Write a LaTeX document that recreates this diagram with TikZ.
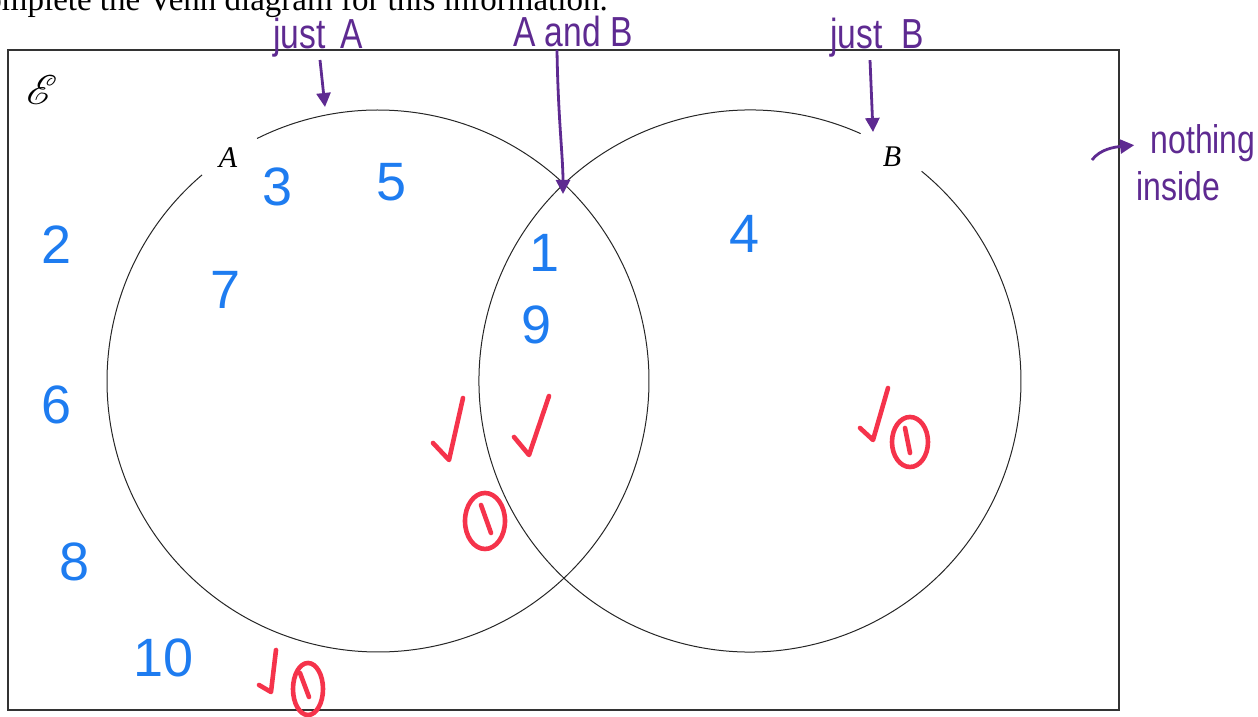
\documentclass[tikz,border=0pt]{standalone}
\usepackage{fontspec}
\setmainfont{Liberation Serif}
\newfontfamily\handfont{Liberation Sans}
\newfontfamily\handnarrow[FakeStretch=0.8]{Liberation Sans}
\usepackage{mathrsfs}
\usetikzlibrary{arrows.meta,positioning,calc}
\definecolor{penblue}{HTML}{1E7CF0}
\definecolor{penpurple}{HTML}{5E2A91}
\definecolor{penred}{HTML}{F5334B}

\begin{document}
\begin{tikzpicture}[
        x=0.5pt, y=0.5pt,
        setline/.style={draw, black!85, line width=0.5pt},
        frame/.style={draw, black!80, line width=0.8pt},
        setlabel/.style={font=\fontsize{15}{15}\selectfont\itshape, inner sep=0pt},
        num/.style={text=penblue, font=\handfont\fontsize{27}{27}\selectfont, inner sep=0pt},
        note/.style={text=penpurple, font=\handnarrow\fontsize{21}{21}\selectfont, inner sep=0pt, anchor=base},
        pointer/.style={draw, -{Triangle[length=7pt, width=7pt]}, penpurple, line width=1.4pt},
        tick/.style={draw, penred, line width=2.3pt, line cap=round, line join=round}
    ]
        \useasboundingbox (0,0) rectangle (1258,717);

        % Question text (cut off at the top)
        \node (question) [anchor=base west, inner sep=0pt, font=\fontsize{16.5}{16.5}\selectfont] at (-37,706) {Complete the Venn diagram for this information.};

        % Universal set and the two sets
        \draw [frame] (8,7) rectangle (1119,667);
        \node (univ) [font=\fontsize{21}{21}\selectfont] at (42,627) {$\mathscr{E}$};
        \draw [setline] (378,336) ++(130.5:271) arc[start angle=130.5, end angle=476.5, radius=271];
        \draw [setline] (750,336) ++(65.9:271) arc[start angle=65.9, end angle=410.7, radius=271];
        \node (labA) [setlabel] at (228,559) {A};
        \node (labB) [setlabel] at (892,560) {B};

        % Numbers
        \node (n2) [num] at (57,472) {2};
        \node (n3) [num] at (278,530) {3};
        \node (n5) [num] at (392,535) {5};
        \node (n7) [num] at (226,427) {7};
        \node (n1) [num] at (545,464) {1};
        \node (n9) [num] at (537,392) {9};
        \node (n4) [num] at (745,483) {4};
        \node (n6) [num] at (57,312) {6};
        \node (n8) [num] at (75,155) {8};
        \node (n10) [num] at (164,59) {10};

        % Notes
        \node (justA) [note] at (318,668) {just\hspace{0.35em}A};
        \node (AandB) [note] at (573,670) {A and B};
        \node (justB) [note] at (877,668) {just\hspace{0.45em}B};
        \node (nothing) [note, font=\handnarrow\fontsize{20}{20}\selectfont] at (1203,563) {nothing};
        \node (inside) [note, font=\handnarrow\fontsize{20}{20}\selectfont] at (1178,516) {inside};

        \coordinate (tipA) at (325,610);
        \coordinate (tipAB) at (563,523);
        \coordinate (tipB) at (873,585);
        \coordinate (hook) at (1092,557);
        \draw [pointer] (320,657) -- (tipA);
        \draw [pointer] (AandB.south) ++(-16,-2) .. controls (558,600) and (563,560) .. (tipAB);
        \draw [pointer] (justB.south) ++(-7,-2) -- (tipB);
        \draw [pointer, shorten >=8pt] (hook) .. controls (1100,568) and (1115,570) .. (nothing.west);

        % Marks
        \draw [tick] (433,274) -- (449,257) -- (463,319);
        \draw [tick] (514,280) -- (529,262) -- (549,321);
        \draw [tick] (860,289) -- (873,277) -- (888,329);
        \draw [tick] (259,32) -- (271,25) -- (276,67);
        \draw [tick] (485,196) ellipse[x radius=20, y radius=28];
        \draw [tick] (481,212) -- (491,184);
        \draw [tick] (910,275) ellipse[x radius=18, y radius=25];
        \draw [tick] (905,289) -- (910,264);
        \draw [tick] (308,28) ellipse[x radius=15, y radius=26];
        \draw [tick] (300,44) -- (309,20);

    \end{tikzpicture}
\end{document}
